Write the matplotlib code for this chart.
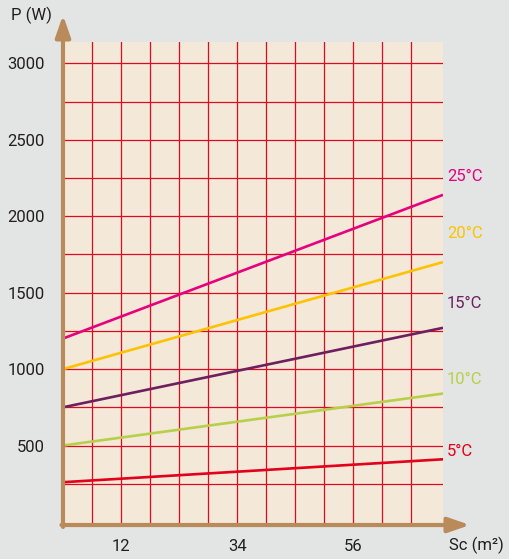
import numpy as np
import matplotlib
matplotlib.use("Agg")
import matplotlib.pyplot as plt

plt.rcParams['font.family'] = ['Roboto', 'DejaVu Sans']

# data
temps = ['25°C', '20°C', '15°C', '10°C', '5°C']
sc_range = [1, 73]
p_start = [1200, 1000, 750, 500, 260]
p_end = [2140, 1700, 1270, 840, 410]
label_y = [2257, 1884, 1426, 935, 458]
colors = ['#e6007e', '#fdc300', '#6d1f5e', '#b8cf4a', '#e2001a']

x_ticks = [12, 34, 56]
y_ticks = [500, 1000, 1500, 2000, 2500, 3000]

bg = '#e3e4e4'
fill = '#f4e8d8'
grid_red = '#dc0a22'
brown = '#b98a5a'
txt = '#231f20'

fig = plt.figure(figsize=(5.10, 5.59), dpi=100, facecolor=bg)
ax = fig.add_axes([63/510, 1-525/559, 380/510, 483/559])
ax.set_facecolor(fill)
ax.set_xlim(sc_range)
ax.set_ylim(-20, 3140)

# grid
for gx in np.arange(6.5, 70, 5.5):
    ax.axvline(gx, color=grid_red, lw=0.9, zorder=1)
for gy in np.arange(250, 3001, 250):
    ax.axhline(gy, color=grid_red, lw=0.9, zorder=1)

for i in range(len(temps)):
    ax.plot(sc_range, [p_start[i], p_end[i]], color=colors[i], lw=1.9,
            solid_capstyle='butt', zorder=3)
    ax.text(1.01, (label_y[i] + 20) / 3160, temps[i], transform=ax.transAxes,
            color=colors[i], fontsize=12, va='center', ha='left')

for s in ['top', 'right', 'left', 'bottom']:
    ax.spines[s].set_visible(False)

ax.set_xticks(x_ticks)
ax.set_yticks(y_ticks)
ax.tick_params(length=0, labelsize=12, colors=txt, pad=10)
ax.tick_params(axis='y', pad=13)

# axis arrows
ax.annotate('', xy=(0, 1 + 27/483), xytext=(0, -0.004), xycoords='axes fraction',
            arrowprops=dict(arrowstyle='-|>,head_length=1.3,head_width=0.45',
                            color=brown, lw=3, shrinkA=0, shrinkB=0), annotation_clip=False)
ax.annotate('', xy=(1 + 27/380, 0), xytext=(-0.004, 0), xycoords='axes fraction',
            arrowprops=dict(arrowstyle='-|>,head_length=1.3,head_width=0.45',
                            color=brown, lw=3, shrinkA=0, shrinkB=0), annotation_clip=False)

fig.text(31/510, 1-15/559, 'P (W)', fontsize=12, color=txt, ha='center', va='center')
fig.text(476/510, 1-545/559, 'Sc (m²)', fontsize=12, color=txt, ha='center', va='center')

fig.savefig('out.png', dpi=100, facecolor=bg)
